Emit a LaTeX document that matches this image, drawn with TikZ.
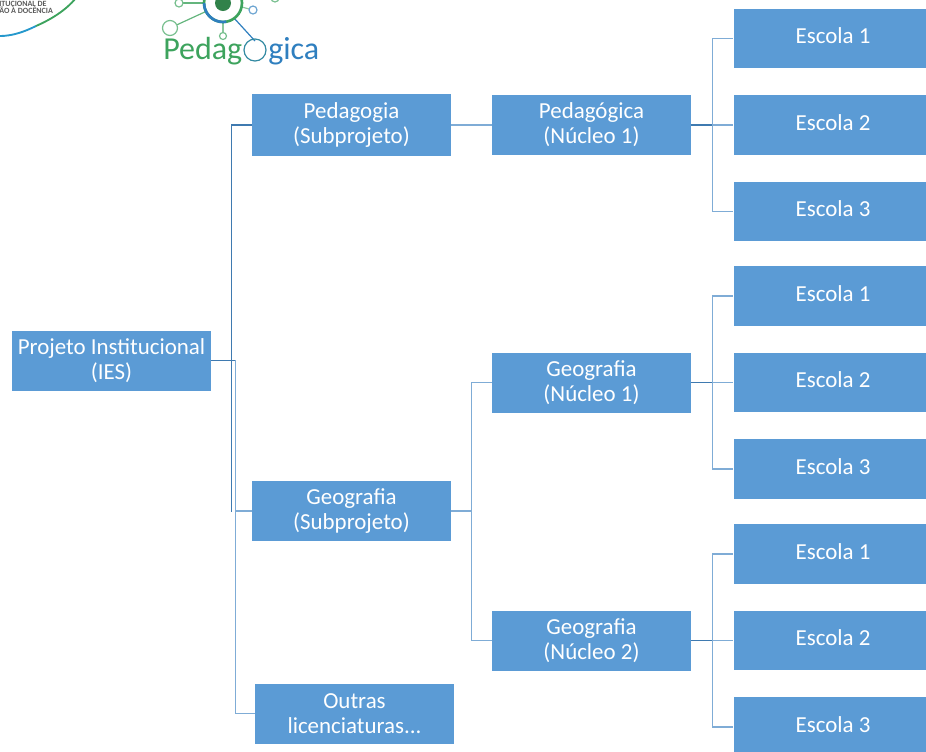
\documentclass[tikz,border=0pt]{standalone}
\usepackage{fontspec}
\setmainfont{Carlito}
\usepackage{tikz}
\usetikzlibrary{positioning,calc}
\definecolor{boxblue}{HTML}{5B9BD5}
\definecolor{linkdark}{HTML}{3F7AB0}
\definecolor{linklight}{HTML}{7FACD6}
\definecolor{logogreen}{HTML}{3DA35D}
\definecolor{logoblue}{HTML}{2F7FBF}
\tikzset{
  unitbox/.style={draw=none, fill=boxblue, text=white, inner sep=0pt, align=center,
    minimum width=149.25pt, minimum height=45pt, font=\fontsize{17.2}{18.75}\selectfont},
  schoolbox/.style={unitbox, minimum height=44.6pt, text depth=4pt},
  link/.style={draw=linkdark, line width=0.85pt},
  softlink/.style={draw=linklight, line width=1pt},
  logoring/.style={draw=logogreen!70, line width=0.9pt, fill=white},
}
\begin{document}
\begin{tikzpicture}[x=0.75pt, y=-0.75pt, node distance=19.9pt and 31.5pt]
\useasboundingbox (0,0) rectangle (926,751);

% Left logo, cut off by the page
\begin{scope}
\clip (0,0) rectangle (926,751);
\draw[logoblue!80!cyan, line width=1.4pt] (0,36) .. controls (12,36) and (24,32) .. (36,26);
\draw[logogreen, line width=1.4pt] (36,26) .. controls (52,19) and (66,10) .. (76,-2);
\node[font=\fontsize{6}{5.5}\selectfont\bfseries, text=black!65, align=left, inner sep=0pt, anchor=north west] (lefttext) at (-1,1) {ITUCIONAL DE\\ÃO À DOCÊNCIA};

% Second logo
\draw[logogreen!80, line width=0.9pt] (170,28) -- (220,5);
\draw[logogreen!80, line width=0.9pt] (179,3) -- (220,3);
\draw[logoblue, line width=0.9pt] (234,18) -- (255,41);
\draw[logogreen!60, line width=0.9pt] (223,20) -- (223,36);
\draw[logogreen!60, line width=0.9pt] (238,6) -- (253,10);
\draw[logoring] (170,28) circle (7.5);
\draw[logoring] (179,3) circle (4);
\draw[logoring] (223,36) circle (3.5);
\draw[logoring, draw=logoblue!70] (253,10) circle (4);
\draw[logoring] (275,-2) circle (4);
\draw[logogreen, line width=2pt, fill=white] (223,3) circle (19);
\draw[logoblue, line width=2pt] (204,3) arc (180:280:19 and -19);
\fill[logogreen!80!black] (223,3) circle (8);
\node[text=logogreen, font=\fontsize{24}{26}\selectfont, anchor=base west, inner sep=0pt] (logoleft) at (163,59) {Pedag};
\draw[logoblue!70!logogreen, line width=0.9pt] (255,50) circle (11);
\node[text=logoblue, font=\fontsize{24}{26}\selectfont, anchor=base west, inner sep=0pt] (logoright) at (268,59) {gica};
\end{scope}

% Project and subprojects
\node[unitbox] (ies) at (111.5,360.5) {Projeto Institucional\\(IES)};
\node[unitbox, minimum height=46.5pt] (subped) at (351.5,125) {Pedagogia\\(Subprojeto)};
\node[unitbox] (subgeo) at (351.5,511) {Geografia\\(Subprojeto)};
\node[unitbox] (subout) at (354.5,713.5) {Outras\\licenciaturas...};

% Nucleos
\node[unitbox] (nucped) at (591.5,125) {Pedagógica\\(Núcleo 1)};
\node[unitbox] (nucgeoa) at (591.5,382.5) {Geografia\\(Núcleo 1)};
\node[unitbox] (nucgeob) at (591.5,640.5) {Geografia\\(Núcleo 2)};

% Schools for each nucleo
\foreach \nuc in {nucped,nucgeoa,nucgeob}{
  \node[schoolbox, right=of \nuc] (\nuc b) {Escola 2};
  \node[schoolbox, above=of \nuc b] (\nuc a) {Escola 1};
  \node[schoolbox, below=of \nuc b] (\nuc c) {Escola 3};
  \draw[softlink] (\nuc.east) -- (\nuc b.west);
  \foreach \esc in {a,c}{
    \draw[softlink] ($(\nuc.east)+(21,0)$) |- (\nuc\esc.west);
  }
  \draw[link] (\nuc.east) -- ++(21,0);
}

% Connectors
\draw[softlink] (subped.east) -- (nucped.west);
\draw[softlink] (subgeo.east) -- ++(20,0) |- (nucgeoa.west);
\draw[softlink] (subgeo.east) -- ++(20,0) |- (nucgeob.west);
\draw[softlink] (ies.east) -- ++(24,0) |- (subout.west);
\draw[softlink] ($(ies.east)+(24,0)$) |- (subgeo.west);
\draw[link] (ies.east) -- ++(24,0);
\draw[link] ($(ies.east)+(20,0)$) |- (subped.west);
\draw[link] ($(ies.east)+(20,0)$) -- ($(ies.east)+(20,151)$);

\end{tikzpicture}
\end{document}
